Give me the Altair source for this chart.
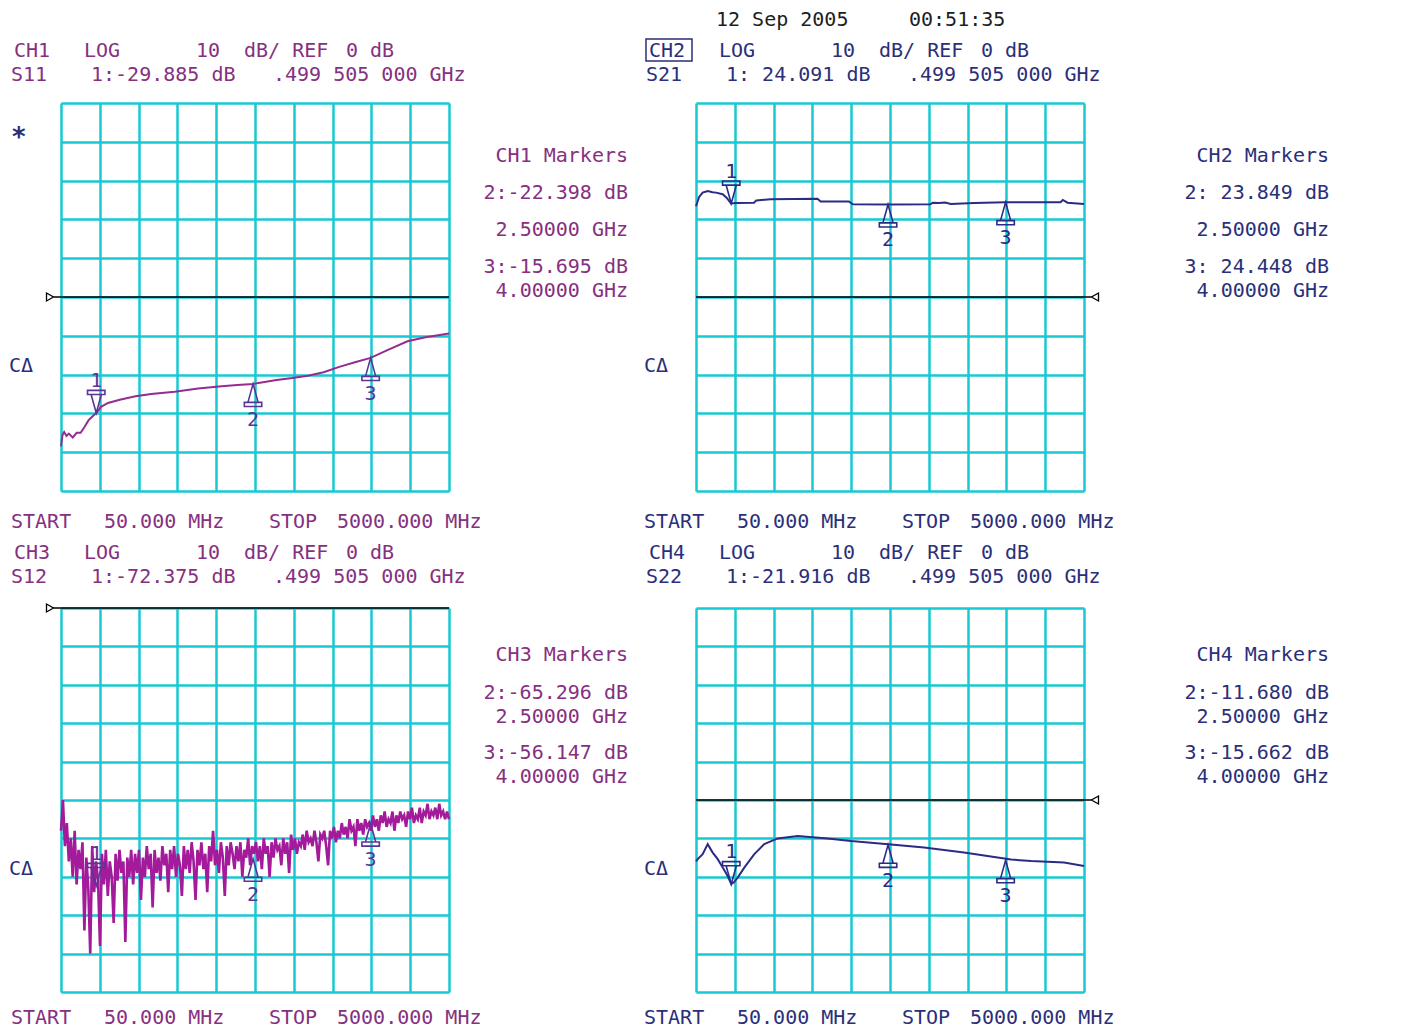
import altair as alt
import pandas as pd

START_MHZ = 50.0
STOP_MHZ = 5000.0
X_GRID_MHZ = [50, 545, 1040, 1535, 2030, 2525, 3020, 3515, 4010, 4505, 5000]
Y_GRID_CENTER = [-50, -40, -30, -20, -10, 0, 10, 20, 30, 40, 50]
Y_GRID_TOPREF = [-100, -90, -80, -70, -60, -50, -40, -30, -20, -10, 0]

MARKER_FREQ = [499.505, 2500.0, 4000.0]
MARKER_NUM = ["1", "2", "3"]

# CH1  S11
CH1_FREQ = [50, 70, 90, 120, 150, 200, 250, 300, 350, 400, 450, 500, 560, 650, 800,
            1000, 1200, 1500, 1800, 2100, 2300, 2500, 2800, 3000, 3200, 3400, 3600,
            3800, 4000, 4200, 4470, 4700, 5000]
CH1_DB = [-38.5, -35.5, -34.8, -35.8, -35.2, -36.2, -35.0, -35.0, -33.5, -31.8, -30.8,
          -29.9, -28.3, -27.3, -26.5, -25.6, -25.0, -24.4, -23.6, -23.0, -22.7, -22.4,
          -21.4, -20.9, -20.3, -19.4, -18.0, -16.8, -15.7, -13.8, -11.4, -10.4, -9.4]
CH1_MARKER_DB = [-29.885, -22.398, -15.695]

# CH2  S21
CH2_FREQ = [50, 90, 135, 200, 260, 305, 390, 440, 497, 560, 790, 820, 1000, 1600, 1640,
            2000, 2050, 2500, 3040, 3070, 3150, 3230, 3300, 3600, 4000, 4700, 4730, 4790, 5000]
CH2_DB = [23.4, 25.8, 26.9, 27.3, 27.0, 26.9, 26.5, 25.6, 24.1, 24.2, 24.3, 24.9, 25.2,
          25.3, 24.6, 24.6, 23.9, 23.85, 23.9, 24.3, 24.2, 24.35, 24.0, 24.2, 24.45,
          24.4, 25.0, 24.3, 24.0]
CH2_MARKER_DB = [24.091, 23.849, 24.448]

# CH3  S12 (noisy trace, one value per sweep point, linear sweep START..STOP)
CH3_DB = [
    -58, -50, -62, -56, -66, -60, -70, -58, -72, -63, -68, -61, -84, -65, -73, -90, -62, -74, -66, -71,
    -88, -64, -72, -63, -75, -66, -70, -82, -64, -71, -63, -69, -66, -87, -65, -70, -63, -72, -64, -69,
    -63, -76, -65, -70, -62, -68, -64, -78, -63, -69, -65, -71, -62, -67, -64, -74, -63, -68, -62, -70,
    -64, -67, -75, -62, -68, -63, -69, -61, -66, -76, -63, -67, -61, -68, -64, -74, -62, -66, -58, -67,
    -63, -69, -61, -65, -75, -62, -67, -61, -64, -68, -62, -66, -61, -70, -63, -65, -60, -67, -62, -64,
    -61, -66, -62, -68, -60, -64, -62, -70, -61, -65, -60, -63, -62, -67, -60, -64, -61, -69, -59, -63,
    -60, -64, -61, -62, -59, -63, -58, -61, -60, -62, -58, -61, -66, -59, -60, -58, -62, -67, -58, -60,
    -57, -61, -58, -60, -56, -59, -57, -60, -55, -58, -57, -62, -55, -58, -56, -59, -55, -57, -56, -58,
    -54, -57, -55, -58, -54, -56, -53, -57, -55, -56, -53, -58, -54, -56, -53, -55, -54, -57, -53, -55,
    -52, -56, -54, -55, -52, -56, -53, -54, -51, -55, -53, -54, -52, -55, -51, -54, -53, -55, -53, -55,
]
CH3_FREQ = [START_MHZ + i * (STOP_MHZ - START_MHZ) / (len(CH3_DB) - 1) for i in range(len(CH3_DB))]
CH3_MARKER_DB = [-72.375, -65.296, -56.147]

# CH4  S22
CH4_FREQ = [50, 72, 135, 199, 263, 327, 391, 454, 500, 530, 582, 666, 794, 921, 1092,
            1347, 1730, 2028, 2538, 2960, 3469, 4069, 4325, 4746, 5000]
CH4_DB = [-16.0, -15.4, -14.1, -11.5, -13.7, -15.4, -17.6, -19.8, -21.9, -21.5, -20.2,
          -17.6, -14.1, -11.5, -10.0, -9.4, -10.0, -10.7, -11.6, -12.4, -13.7, -15.5,
          -15.9, -16.3, -17.2]
CH4_MARKER_DB = [-21.916, -11.680, -15.662]

# screen texts
DATE_TOKENS = ["12 Sep 2005", "00:51:35"]
HEAD1 = {1: ["CH1", "LOG", "10", "dB/ REF", "0 dB"],
         2: ["CH2", "LOG", "10", "dB/ REF", "0 dB"],
         3: ["CH3", "LOG", "10", "dB/ REF", "0 dB"],
         4: ["CH4", "LOG", "10", "dB/ REF", "0 dB"]}
HEAD2 = {1: ["S11", "1:-29.885 dB", ".499 505 000 GHz"],
         2: ["S21", "1: 24.091 dB", ".499 505 000 GHz"],
         3: ["S12", "1:-72.375 dB", ".499 505 000 GHz"],
         4: ["S22", "1:-21.916 dB", ".499 505 000 GHz"]}
MARKER_BLOCK = {1: ["CH1 Markers", "2:-22.398 dB", "2.50000 GHz", "3:-15.695 dB", "4.00000 GHz"],
                2: ["CH2 Markers", "2: 23.849 dB", "2.50000 GHz", "3: 24.448 dB", "4.00000 GHz"],
                3: ["CH3 Markers", "2:-65.296 dB", "2.50000 GHz", "3:-56.147 dB", "4.00000 GHz"],
                4: ["CH4 Markers", "2:-11.680 dB", "2.50000 GHz", "3:-15.662 dB", "4.00000 GHz"]}
SWEEP_TOKENS = ["START", "50.000 MHz", "STOP", "5000.000 MHz"]

# ---------------- styling / layout ----------------
FONT = "DejaVu Sans Mono"
FS = 20
GRID = "#17c9d3"
PURPLE = "#86307f"
NAVY = "#2b2f7a"
BLACK = "#1e1e1e"

L1_X = [-47, 23, 135, 183, 285]
L2_X = [-50, 30, 212]
SWEEP_X = [-50, 43, 208, 276]
DATE_X = [20, 213]

DOWN_TRI = "M0,0 L-0.5,-1.8 L0.5,-1.8 Z M-0.85,-1.8 L0.85,-1.8 L0.85,-2.2 L-0.85,-2.2 Z"
UP_TRI = "M0,0 L-0.5,1.8 L0.5,1.8 Z M-0.85,1.8 L0.85,1.8 L0.85,2.2 L-0.85,2.2 Z"
REF_LEFT = "M-2.9,-0.8 L-1.5,0 L-2.9,0.8 Z M-1.5,0 L0,0"
REF_RIGHT = "M2.9,-0.8 L1.5,0 L2.9,0.8 Z M1.5,0 L0,0"


def panel(n, freq, db, mk_db, ydom, ygrid, ref_side, height, top_row, right_col,
          trace_color, trace_w, text_color, mark_color):
    xs = alt.Scale(domain=[START_MHZ, STOP_MHZ], nice=False, zero=False)
    ys = alt.Scale(domain=ydom, nice=False, zero=False)
    xax = alt.Axis(values=X_GRID_MHZ, tickCount=40, grid=True, gridColor=GRID, gridWidth=2.5,
                   gridOpacity=1, domain=False, ticks=False, labels=False, title=None)
    yax = alt.Axis(values=ygrid, tickCount=40, grid=True, gridColor=GRID, gridWidth=2.5,
                   gridOpacity=1, domain=False, ticks=False, labels=False, title=None)
    X = alt.X("f:Q", scale=xs, axis=xax)
    Y = alt.Y("db:Q", scale=ys, axis=yax)

    trace = alt.Chart(pd.DataFrame({"f": freq, "db": db})).mark_line(
        color=trace_color, strokeWidth=trace_w).encode(x=X, y=Y)

    ref_f = START_MHZ if ref_side == "left" else STOP_MHZ
    ref_df = pd.DataFrame({"f": [ref_f], "db": [0.0]})
    rule = alt.Chart(ref_df).mark_rule(color="black", strokeWidth=1.5).encode(y="db:Q")
    ref_tri = alt.Chart(ref_df).mark_point(
        shape=REF_LEFT if ref_side == "left" else REF_RIGHT, size=100, color="black",
        strokeWidth=1.3, filled=False, opacity=1).encode(x="f:Q", y="db:Q")

    mk = pd.DataFrame({"f": MARKER_FREQ, "db": mk_db, "n": MARKER_NUM})
    mk_down = mk.iloc[:1]
    mk_up = mk.iloc[1:]
    m_down = alt.Chart(mk_down).mark_point(shape=DOWN_TRI, size=420, color=mark_color,
                                           strokeWidth=1.6, filled=False, opacity=1).encode(x="f:Q", y="db:Q")
    m_up = alt.Chart(mk_up).mark_point(shape=UP_TRI, size=420, color=mark_color,
                                       strokeWidth=1.6, filled=False, opacity=1).encode(x="f:Q", y="db:Q")
    n_down = alt.Chart(mk_down).mark_text(font=FONT, fontSize=FS, color=mark_color, dy=-32,
                                          baseline="middle").encode(x="f:Q", y="db:Q", text="n:N")
    n_up = alt.Chart(mk_up).mark_text(font=FONT, fontSize=FS, color=mark_color, dy=36,
                                      baseline="middle").encode(x="f:Q", y="db:Q", text="n:N")

    data_layer = alt.layer(trace, rule, ref_tri, m_down, m_up, n_down, n_up)

    # ----- annotation texts (pixel positions relative to plot origin) -----
    rows = []
    shift = -2 if right_col else 0
    y1, y2 = (-62, -38) if top_row else (-65, -41)
    for t, x in zip(HEAD1[n], L1_X):
        rows.append((t, x, y1, text_color))
    for t, x in zip(HEAD2[n], L2_X):
        rows.append((t, x, y2, text_color))
    ys_sweep = 409 if top_row else 400
    for t, x in zip(SWEEP_TOKENS, SWEEP_X):
        rows.append((t, x + shift, ys_sweep, text_color))
    rows.append(("C\u0394", -52, 253 if top_row else 251, NAVY))
    if n == 2:
        for t, x in zip(DATE_TOKENS, DATE_X):
            rows.append((t, x, -93, BLACK))
    left_df = pd.DataFrame(rows, columns=["t", "px", "py", "col"])

    mb_y = [43, 80, 117, 154, 178] if top_row else [37, 75, 99, 135, 159]
    mb_x = 633 if right_col else 567
    right_df = pd.DataFrame({"t": MARKER_BLOCK[n], "px": [mb_x] * 5, "py": mb_y,
                             "col": [text_color] * 5})

    PX = alt.X("px:Q", scale=None, axis=None)
    PY = alt.Y("py:Q", scale=None, axis=None)
    txt_left = alt.Chart(left_df).mark_text(align="left", baseline="top", font=FONT, fontSize=FS).encode(
        x=PX, y=PY, text="t:N", color=alt.Color("col:N", scale=None))
    txt_right = alt.Chart(right_df).mark_text(align="right", baseline="top", font=FONT, fontSize=FS).encode(
        x=PX, y=PY, text="t:N", color=alt.Color("col:N", scale=None))

    layers = [data_layer, txt_left, txt_right]
    if n == 1:
        star = alt.Chart(pd.DataFrame({"t": ["*"]})).mark_text(
            align="left", baseline="top", font=FONT, fontSize=26, fontWeight="bold", color=NAVY).encode(
            x=alt.value(-50), y=alt.value(22), text="t:N")
        layers.append(star)
    if n == 2:
        box = alt.Chart(pd.DataFrame({"a": [0]})).mark_rect(
            fillOpacity=0, stroke=NAVY, strokeWidth=1.5).encode(
            x=alt.value(-50), x2=alt.value(-4), y=alt.value(-64), y2=alt.value(-42))
        layers.append(box)

    return alt.layer(*layers).resolve_scale(x="independent", y="independent").properties(
        width=388, height=height)


p1 = panel(1, CH1_FREQ, CH1_DB, CH1_MARKER_DB, [-50, 50], Y_GRID_CENTER, "left", 388, True, False,
           "#952c8f", 2.0, PURPLE, "#5b3596")
p2 = panel(2, CH2_FREQ, CH2_DB, CH2_MARKER_DB, [-50, 50], Y_GRID_CENTER, "right", 388, True, True,
           "#2b2b86", 2.0, NAVY, "#2b2b86")
p3 = panel(3, CH3_FREQ, CH3_DB, CH3_MARKER_DB, [-100, 0], Y_GRID_TOPREF, "left", 384, False, False,
           "#a31a9a", 2.6, PURPLE, "#5b3596")
p4 = panel(4, CH4_FREQ, CH4_DB, CH4_MARKER_DB, [-50, 50], Y_GRID_CENTER, "right", 384, False, True,
           "#2b2b86", 2.0, NAVY, "#2b2b86")

chart = alt.concat(
    p1, p2, p3, p4, columns=2,
    spacing={"row": 117, "column": 247},
    bounds="flush",
    padding={"left": 0, "top": 1, "right": 10, "bottom": 0},
).configure_view(stroke=GRID, strokeWidth=2.5).configure(background="white")

chart.save("out.html", embed_options={"renderer": "svg", "actions": False})
